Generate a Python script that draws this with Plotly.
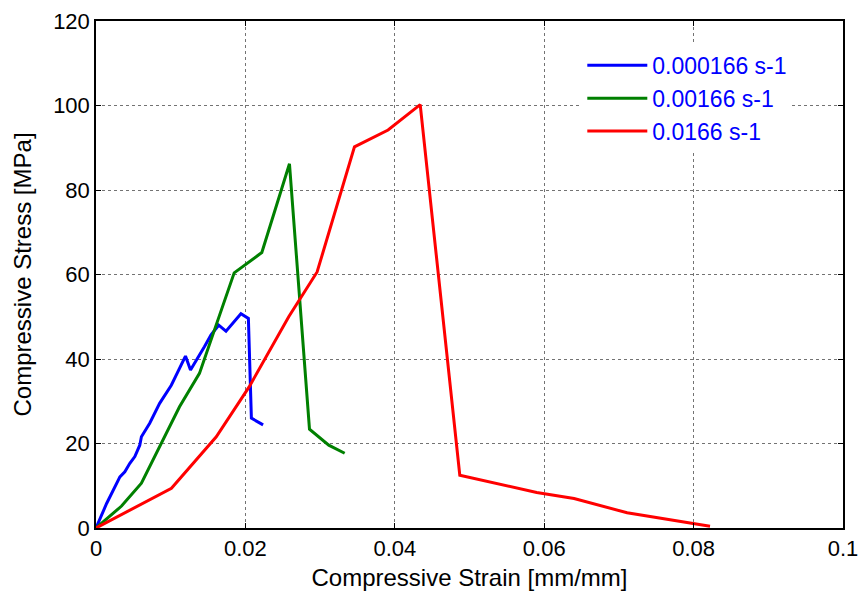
import plotly.graph_objects as go

# Compressive stress-strain curves at three strain rates
strain_slow = [0, 0.00142, 0.0032, 0.00386, 0.00453, 0.0052, 0.00586, 0.00608, 0.00719,
               0.00852, 0.01008, 0.01096, 0.01198, 0.01265, 0.01362, 0.01451, 0.0154,
               0.01642, 0.0174, 0.0194, 0.0204, 0.0208, 0.02237]
stress_slow = [0, 5.8, 12.1, 13.3, 15.3, 16.9, 19.6, 21.6, 24.8,
               29.5, 33.8, 37.0, 40.7, 37.4, 40.2, 42.9, 45.7,
               48.0, 46.6, 50.7, 49.6, 26.0, 24.4]

strain_mid = [0, 0.00342, 0.00608, 0.00874, 0.01118, 0.01385, 0.0185, 0.0222, 0.0259,
              0.02858, 0.03116, 0.03329]
stress_mid = [0, 5.2, 10.6, 20.0, 28.7, 36.6, 60.4, 65.2, 86.2,
              23.4, 19.6, 17.7]

strain_fast = [0, 0.0101, 0.0161, 0.0205, 0.0258, 0.0296, 0.0346, 0.0391, 0.0434,
               0.0487, 0.0590, 0.0640, 0.0711, 0.0795, 0.0822]
stress_fast = [0, 9.4, 21.6, 33.4, 50.0, 60.6, 90.2, 94.2, 100.2,
               12.5, 8.4, 7.0, 3.6, 1.2, 0.4]

series_names = ["0.000166 s-1", "0.00166 s-1", "0.0166 s-1"]
series_colors = ["#0000ff", "#008000", "#ff0000"]

x_ticks = [0, 0.02, 0.04, 0.06, 0.08, 0.1]
x_tick_labels = ["0", "0.02", "0.04", "0.06", "0.08", "0.1"]
y_ticks = [0, 20, 40, 60, 80, 100, 120]

FONT = "Arial, Liberation Sans, Helvetica, sans-serif"

fig = go.Figure()
for xs, ys, name, color in zip([strain_slow, strain_mid, strain_fast],
                               [stress_slow, stress_mid, stress_fast],
                               series_names, series_colors):
    fig.add_trace(go.Scatter(x=xs, y=ys, mode="lines", name=name,
                             line=dict(color=color, width=3)))

axis_common = dict(
    showline=True, linecolor="black", linewidth=1.5, mirror="allticks",
    ticks="inside", ticklen=5, tickwidth=1, tickcolor="black",
    showgrid=True, gridcolor="rgba(0,0,0,0.55)", griddash="dot", gridwidth=1,
    zeroline=False, automargin=False, ticklabeloverflow="allow",
    tickfont=dict(family=FONT, size=22, color="black"),
)

fig.update_xaxes(range=[0, 0.1000001], tickvals=x_ticks, ticktext=x_tick_labels,
                 title=dict(text="Compressive Strain [mm/mm]",
                            font=dict(family=FONT, size=24, color="black"),
                            standoff=9),
                 **axis_common)
fig.update_yaxes(range=[0, 120.0001], tickvals=y_ticks,
                 title=dict(text="Compressive Stress [MPa]",
                            font=dict(family=FONT, size=24, color="black"),
                            standoff=15),
                 **axis_common)

fig.update_layout(
    width=859, height=594,
    margin=dict(l=96, r=16, t=21, b=66),
    paper_bgcolor="white", plot_bgcolor="white",
    showlegend=True,
    legend=dict(x=0.651, y=0.955, xanchor="left", yanchor="top",
                bgcolor="white", borderwidth=0,
                font=dict(family=FONT, size=23, color="#0000ff"),
                itemwidth=60, tracegroupgap=0),
)

fig.write_html("out.html")
